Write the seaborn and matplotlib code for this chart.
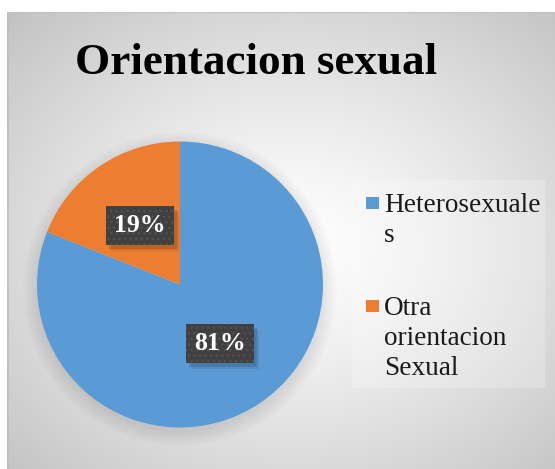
import numpy as np
import seaborn as sns
import matplotlib.pyplot as plt
from matplotlib.patches import Rectangle

categorias = ["Heterosexuales", "Otra orientacion Sexual"]
etiquetas_leyenda = ["Heterosexuale\ns", "Otra\norientacion\nSexual"]
valores = [81, 19]
colores = ["#5B9BD5", "#ED7D31"]
titulo = "Orientacion sexual"

sns.set_style("white")
plt.rcParams['font.family'] = ['Liberation Serif', 'DejaVu Serif']
plt.rcParams['hatch.linewidth'] = 0.8

W, H = 555, 469
fig = plt.figure(figsize=(W / 100, H / 100), dpi=100)
fig.patch.set_facecolor("white")

# fondo con degradado radial (estilo Excel)
bg = fig.add_axes([7 / W, 0, (W - 7) / W, (H - 12) / H])
bg.set_axis_off()
ny, nx = 457, 548
yy, xx = np.mgrid[0:ny, 0:nx]
cx, cy = 285.0, 235.0
d = np.sqrt(((xx - cx) / 290.0) ** 2 + ((yy - cy) / 235.0) ** 2) / np.sqrt(2)
g = np.clip(255 - 62 * d ** 1.25, 0, 255) / 255.0
bg.imshow(np.dstack([g, g, g]), aspect='auto', extent=[0, nx, ny, 0])
bg.set_xlim(0, nx)
bg.set_ylim(ny, 0)
bg.axhline(0.5, color="#bfbfbf", lw=1.2)
bg.axvline(0.5, color="#bfbfbf", lw=1.2)

# caja de la leyenda, ligeramente más clara
bg.add_patch(Rectangle((352 - 7, 180 - 12), 193, 208, facecolor="white",
                       alpha=0.22, edgecolor="none"))

fig.text(256.5 / W, 1 - 74 / H, titulo, ha='center', va='baseline',
         fontsize=32.5, fontweight='bold', color='black')

# pastel
r_px = 143
ax = fig.add_axes([(180 - r_px) / W, (H - 284.5 - r_px) / H,
                   2 * r_px / W, 2 * r_px / H])
ax.set_axis_off()
for k in range(8):
    ax.add_patch(plt.Circle((0.0, -0.03), 1.0 + 0.014 * k, color="black",
                            alpha=0.01, lw=0, zorder=0, clip_on=False))
wedges, texts, autotexts = ax.pie(
    valores, colors=colores, startangle=90, counterclock=False,
    autopct='%1.0f%%', pctdistance=0.5, radius=1.0,
    wedgeprops=dict(linewidth=0, clip_on=False),
    textprops=dict(color='white', fontsize=18.5, fontweight='bold',
                   zorder=5))
ax.set_xlim(-1, 1)
ax.set_ylim(-1, 1)
for t in autotexts:
    t.set_bbox(dict(boxstyle='square,pad=0.32', facecolor='#404040',
                    edgecolor='#555555', hatch='...', linewidth=0))

# sombras de las etiquetas (debajo de la caja, encima de las porciones)
fig.canvas.draw()
inv = ax.transData.inverted()
for t in autotexts:
    ext = t.get_bbox_patch().get_window_extent()
    for off, a in [(3, 0.14), (5, 0.08)]:
        (x0, y0), (x1, y1) = inv.transform([[ext.x0 + off, ext.y0 - off - 1],
                                            [ext.x1 + off, ext.y1 - off - 1]])
        ax.add_patch(Rectangle((x0, y0), x1 - x0, y1 - y0,
                               facecolor='black', alpha=a, lw=0, zorder=4))

# leyenda
lx = 366
for i, (lab, col) in enumerate(zip(etiquetas_leyenda, colores)):
    y0 = 212 + i * 103
    bg.add_patch(Rectangle((lx - 7, y0 - 15 - 12), 13, 12,
                           facecolor=col, edgecolor='none'))
    for j, linea in enumerate(lab.split("\n")):
        fig.text(384 / W, 1 - (y0 + 30 * j) / H, linea, ha='left',
                 va='baseline', fontsize=19.6, color='#1a1a1a')

fig.savefig("out.png", dpi=100)
